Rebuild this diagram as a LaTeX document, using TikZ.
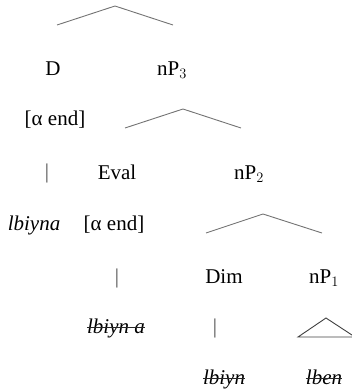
\documentclass[tikz,border=0pt]{standalone}
\usepackage{fontspec}
\setmainfont{Liberation Serif}
\usepackage{tikz}

\begin{document}
\begin{tikzpicture}[x=1pt,y=-1pt,font=\fontsize{21}{25}\selectfont,
    lbl/.style={anchor=base,inner sep=0pt},
    bar/.style={lbl,text=black!70},
    roof/.style={draw=black!55,line width=0.9pt},
    strike/.style={draw=black!85,line width=0.9pt}]
  \useasboundingbox (0,0) rectangle (352,391);
  % labels, row by row
  \foreach \n/\x/\y/\t in {d/53/75/D, np3/172/75/{nP$_3$},
      alphaD/55/125/{[α end]},
      eval/117/179/Eval, np2/249/179/{nP$_2$},
      lbiyna/34/230/{\textit{lbiyna}}, alphaE/114/230/{[α end]},
      dim/224/283/Dim, np1/324/283/{nP$_1$},
      lbiyna2/116/333/{\textit{lbiyn a}},
      lbiyn/224/384/{\textit{lbiyn}}, lben/324/384/{\textit{lben}}}
    {\node[lbl] (\n) at (\x,\y) {\t};}
  \foreach \n/\x/\y in {barD/47/178, barE/117/283, barDim/215/333}
    {\node[bar] (\n) at (\x,\y) {|};}
  % struck-out words
  \foreach \n in {lbiyna2,lbiyn,lben}
    {\draw[strike] ([yshift=5.5pt]\n.base west) -- ([yshift=5.5pt]\n.base east);}
  % roofs
  \coordinate (r1l) at (57,25);  \coordinate (r1t) at (115,6);   \coordinate (r1r) at (173,25);
  \coordinate (r2l) at (125,128); \coordinate (r2t) at (183,109); \coordinate (r2r) at (241,128);
  \coordinate (r3l) at (206,233); \coordinate (r3t) at (263,214); \coordinate (r3r) at (322,233);
  \foreach \r in {r1,r2,r3}
    {\draw[roof] (\r l) -- (\r t) -- (\r r);}
  \coordinate (t1l) at (298,337); \coordinate (t1t) at (326,318); \coordinate (t1r) at (355,337);
  \draw[roof,draw=black!75] (t1l) -- (t1t) -- (t1r) -- cycle;
\end{tikzpicture}
\end{document}
